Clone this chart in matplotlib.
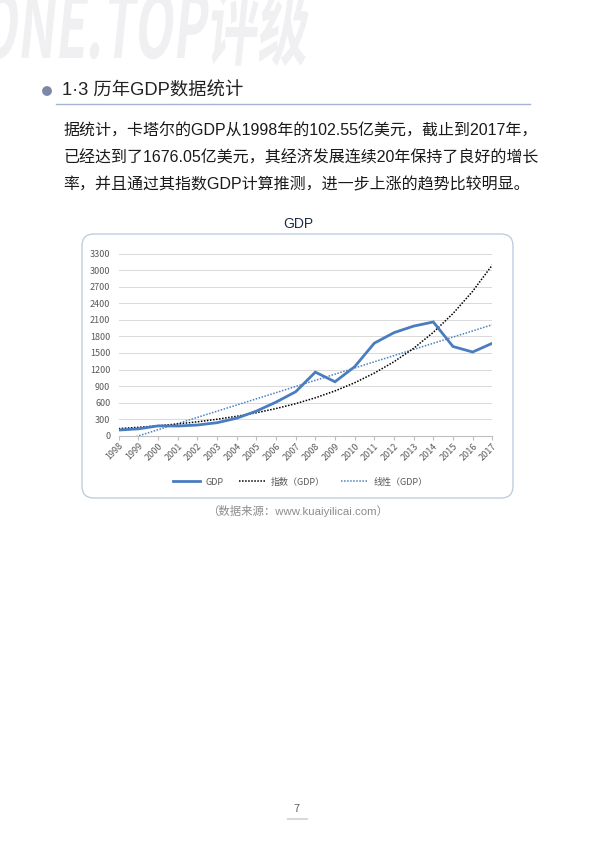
import numpy as np
import matplotlib
matplotlib.use("Agg")
import matplotlib.pyplot as plt
from matplotlib.patches import FancyBboxPatch, PathPatch, Circle
from matplotlib.textpath import TextPath
from matplotlib.font_manager import FontProperties
from matplotlib.transforms import Affine2D
from matplotlib.lines import Line2D

plt.rcParams['font.family'] = ['Noto Sans CJK SC', 'DejaVu Sans']
ARIAL = ['Liberation Sans', 'Noto Sans CJK SC']

# ------------------------------------- Data (亿美元) ---------------------#
years = [str(y) for y in range(1998, 2018)]
gdp = [102.55, 124.0, 177.6, 175.4, 193.6, 235.3, 317.3, 445.3, 608.8, 797.1,
       1152.7, 978.0, 1251.2, 1677.8, 1868.3, 1987.3, 2062.2, 1617.4, 1517.3, 1676.05]
# trend lines
expo_trend = [129, 152, 180, 213, 252, 298, 352, 416, 492, 581,
              687, 812, 960, 1135, 1341, 1585, 1874, 2215, 2618, 3095]
lin_trend = [-116, -4, 108, 220, 332, 444, 556, 668, 780, 892,
             1004, 1116, 1228, 1340, 1452, 1564, 1676, 1788, 1900, 2012]
y_ticks = list(range(0, 3301, 300))

heading = "1·3 历年GDP数据统计"
para = ["据统计，卡塔尔的GDP从1998年的102.55亿美元，截止到2017年，",
        "已经达到了1676.05亿美元，其经济发展连续20年保持了良好的增长",
        "率，并且通过其指数GDP计算推测，进一步上涨的趋势比较明显。"]
source = "（数据来源：www.kuaiyilicai.com）"

W, H = 596, 843
fig = plt.figure(figsize=(W / 100, H / 100), dpi=100)

# ------------------------------------- Page layer in pixel coords -------#
bg = fig.add_axes([0, 0, 1, 1], zorder=0)
bg.set_xlim(0, W)
bg.set_ylim(H, 0)
bg.axis('off')

# watermark
tp = TextPath((0, 0), "ONE.TOP评级", size=1,
              prop=FontProperties(family='Noto Sans CJK SC', weight='heavy'))
ext = tp.get_extents()
sx = 325 / ext.width
tr = Affine2D().skew_deg(10, 0).scale(sx, -88).translate(-22, 58)
bg.add_patch(PathPatch(tr.transform_path(tp), facecolor='#f0f0f2', edgecolor='none'))

# heading
bg.add_patch(Circle((47, 91), 4.2, color='#7d87a8'))
bg.text(62, 91, heading, fontsize=13.2, color='#222222', va='center', ha='left',
        family=ARIAL)
bg.plot([56, 530], [103.5, 103.5], color='#a3b3d6', lw=1.0)

# paragraph
for i, line in enumerate(para):
    bg.text(63, 131 + i * 27, line, fontsize=11.5, color='#1a1a1a', va='center',
            ha='left', family=ARIAL)

# chart title, frame, source, page number
bg.text(298, 224, "GDP", fontsize=10, color='#1f2d4d', ha='center', va='center',
        family=ARIAL)
bg.add_patch(FancyBboxPatch((82, 234), 431, 264, boxstyle="round,pad=0,rounding_size=12",
                            facecolor='none', edgecolor='#b9c9dd', lw=0.9))
bg.text(298, 511, source, fontsize=8.2, color='#8c8c8c', ha='center', va='center',
        family=ARIAL)
bg.text(297, 809, "7", fontsize=8, color='#666666', ha='center', va='center')
bg.plot([288, 307], [819, 819], color='#d9d9d9', lw=1.5)

# ------------------------------------- Chart ----------------------------#
ax = fig.add_axes([118.7 / W, 1 - 435.7 / H, 373.6 / W, 182 / H], zorder=1)
ax.patch.set_alpha(0)
x = np.arange(len(years))

ax.plot(x, lin_trend, color='#4f81bd', lw=1.1, ls=(0, (1, 1)), zorder=3)
ax.plot(x, expo_trend, color='black', lw=1.1, ls=(0, (1, 1)), zorder=3)
ax.plot(x, gdp, color='#4a7dbf', lw=2.0, zorder=4, solid_joinstyle='miter')

ax.set_xlim(0, len(years) - 1)
ax.set_ylim(0, 3300)
ax.set_yticks(y_ticks)
ax.set_xticks(x)
ax.set_xticklabels(years, rotation=45, ha='right', rotation_mode='anchor')
ax.grid(True, axis='y', color='#d9d9d9', lw=0.7)
ax.set_axisbelow(True)
for s in ['top', 'right', 'left']:
    ax.spines[s].set_visible(False)
ax.spines['bottom'].set_color('#bfbfbf')
ax.spines['bottom'].set_linewidth(0.8)
ax.tick_params(axis='y', length=0, labelsize=6.5, labelcolor='#595959', pad=6)
ax.tick_params(axis='x', length=3, color='#bfbfbf', labelsize=6.5, labelcolor='#595959', pad=1)

handles = [Line2D([], [], color='#4a7dbf', lw=2.0),
           Line2D([], [], color='black', lw=1.1, ls=(0, (1, 1))),
           Line2D([], [], color='#4f81bd', lw=1.1, ls=(0, (1, 1)))]
fig.legend(handles, ["GDP", "指数（GDP）", "线性（GDP）"], loc='center',
           bbox_to_anchor=(300 / W, 1 - 482 / H), ncol=3, frameon=False,
           fontsize=6.5, handlelength=3.0, handletextpad=0.6, columnspacing=1.7,
           labelcolor='#595959')

fig.savefig("out.png", dpi=100)
